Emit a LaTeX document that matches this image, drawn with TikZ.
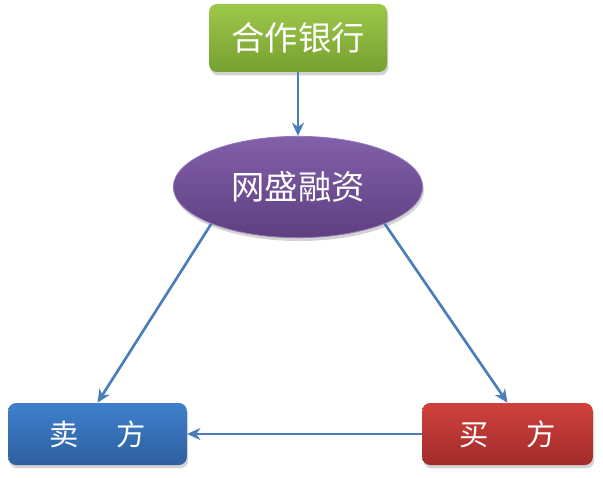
\documentclass[tikz,border=0pt]{standalone}
\usepackage{fontspec}
\newfontfamily\cjk{Noto Sans CJK SC}
\usetikzlibrary{shapes.geometric,shadows,arrows.meta}
\definecolor{arrowblue}{HTML}{4A7EBB}
\tikzset{
  box/.style={rectangle,rounded corners=6pt,inner sep=0pt,text=white,font=\cjk,
    drop shadow={opacity=.35,shadow xshift=1pt,shadow yshift=-2.5pt}},
  link/.style={draw=arrowblue,line width=2pt,-{Stealth[length=10pt,width=9pt]}}
}
\begin{document}
\begin{tikzpicture}[x=.75pt,y=-.75pt]
\useasboundingbox (0,0) rectangle (603,478);
\node[box,top color={rgb,255:red,158;green,200;blue,74},bottom color={rgb,255:red,118;green,160;blue,48},
  minimum width=133.5pt,minimum height=51pt,font=\cjk\fontsize{25}{29}\selectfont] (bank) at (298,38) {合作银行};
\node[box,ellipse,top color={rgb,255:red,130;green,96;blue,170},bottom color={rgb,255:red,94;green,63;blue,128},
  draw={rgb,255:red,150;green,120;blue,185},line width=.6pt,
  minimum width=187pt,minimum height=76pt,font=\cjk\fontsize{25}{29}\selectfont] (platform) at (298,187) {网盛融资};
\node[box,top color={rgb,255:red,62;green,128;blue,204},bottom color={rgb,255:red,46;green,95;blue,160},
  minimum width=134pt,minimum height=46.5pt,font=\cjk\fontsize{22}{26}\selectfont] (seller) at (97.5,434) {卖\hspace{1.3em}方};
\node[box,top color={rgb,255:red,208;green,65;blue,62},bottom color={rgb,255:red,162;green,44;blue,42},
  minimum width=128pt,minimum height=46.5pt,font=\cjk\fontsize{22}{26}\selectfont] (buyer) at (507.5,434) {买\hspace{1.3em}方};
\draw[link] (bank.south) -- (platform.north);
\draw[link] (platform.203) -- (seller.north);
\draw[link] (platform.-23) -- (buyer.north);
\draw[link] (buyer.west) -- (seller.east);
\end{tikzpicture}
\end{document}
